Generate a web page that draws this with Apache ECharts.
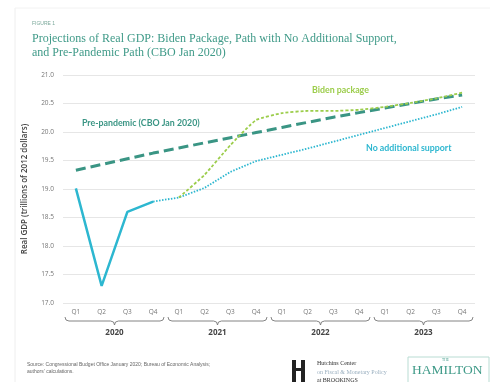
<!DOCTYPE html>
<html>
<head>
<meta charset="utf-8">
<script src="https://cdn.jsdelivr.net/npm/echarts@6/dist/echarts.min.js"></script>
<style>
html,body{margin:0;padding:0;background:#fff;}
#chart{width:490px;height:382px;}
</style>
</head>
<body>
<div id="chart"></div>
<script>
const quarters = ['Q1','Q2','Q3','Q4','Q1','Q2','Q3','Q4','Q1','Q2','Q3','Q4','Q1','Q2','Q3','Q4'];
const years = ['2020','2021','2022','2023'];
const yTicks = [17.0,17.5,18.0,18.5,19.0,19.5,20.0,20.5,21.0];
const actual = [19.01,17.30,18.60,18.78,null,null,null,null,null,null,null,null,null,null,null,null];
const noSupport = [null,null,null,18.78,18.85,19.02,19.30,19.49,19.60,19.71,19.83,19.95,20.07,20.19,20.31,20.44];
const biden = [null,null,null,null,18.85,19.25,19.77,20.21,20.33,20.37,20.37,20.39,20.44,20.51,20.59,20.69];
const prePandemic = [19.33,19.43,19.53,19.63,19.72,19.81,19.90,19.99,20.08,20.17,20.26,20.34,20.42,20.50,20.58,20.65];

const TEAL = '#3a9584';
const CYAN = '#2db7d0';
const LIME = '#9ccd4b';

const chart = echarts.init(document.getElementById('chart'), null, {renderer:'canvas'});
const option = {
  animation:false,
  backgroundColor:'#fff',
  title:[
    {text:'FIGURE 1', left:27, top:16, textStyle:{fontSize:5, fontWeight:'normal', color:'#7aa89a', fontFamily:'Liberation Sans'}},
    {text:'Projections of Real GDP: Biden Package, Path with No Additional Support,\nand Pre-Pandemic Path (CBO Jan 2020)', left:27, top:27,
     textStyle:{fontSize:12, fontWeight:'normal', color:'#3f9a88', fontFamily:'Liberation Serif', lineHeight:14}}
  ],
  grid:{left:63, right:15, top:75, bottom:79},
  xAxis:[
    {type:'category', data:quarters, boundaryGap:true,
     axisLine:{show:false}, axisTick:{show:false},
     axisLabel:{fontSize:6.5, color:'#777', margin:6, fontFamily:'Open Sans', interval:0}},
    {type:'category', data:years, position:'bottom', offset:26, boundaryGap:true,
     axisLine:{show:false}, axisTick:{show:false},
     axisLabel:{fontSize:8, fontWeight:'bold', color:'#444', margin:0, fontFamily:'Open Sans', interval:0}}
  ],
  yAxis:{type:'value', min:yTicks[0], max:yTicks[yTicks.length-1], interval:0.5,
    axisLine:{show:false}, axisTick:{show:false},
    axisLabel:{fontSize:6.5, color:'#777', margin:9, fontFamily:'Open Sans', formatter:v=>v.toFixed(1)},
    splitLine:{lineStyle:{color:'#e6e6e6', width:1}},
    name:'Real GDP (trillions of 2012 dollars)', nameLocation:'middle', nameGap:34, nameRotate:90,
    nameTextStyle:{fontSize:8, fontWeight:600, color:'#444', fontFamily:'Open Sans'}
  },
  series:[
    {name:'Pre-pandemic', type:'line', data:prePandemic, symbol:'none', z:3,
     lineStyle:{color:TEAL, width:3, type:[10,5]}},
    {name:'No additional support', type:'line', data:noSupport, symbol:'none', z:2,
     lineStyle:{color:CYAN, width:1.8, type:[1.5,1.5]}},
    {name:'Biden package', type:'line', data:biden, symbol:'none', z:4, smooth:0.15,
     lineStyle:{color:LIME, width:1.8, type:[3,2]}},
    {name:'Actual', type:'line', data:actual, symbol:'none', z:5,
     lineStyle:{color:CYAN, width:2.5}}
  ]
};
chart.setOption(option);

const g = [];
function txt(x, y, text, style) {
  g.push({type:'text', x:x, y:y, style:Object.assign({text:text}, style)});
}
txt(82, 119, 'Pre-pandemic (CBO Jan 2020)', {fontSize:8.8, fontWeight:'bold', fill:TEAL, fontFamily:'Lato'});
txt(312, 86, 'Biden package', {fontSize:8.8, fontWeight:'bold', fill:LIME, fontFamily:'Lato'});
txt(366, 144, 'No additional support', {fontSize:8.8, fontWeight:'bold', fill:CYAN, fontFamily:'Lato'});

const band = chart.convertToPixel({xAxisIndex:0}, 1) - chart.convertToPixel({xAxisIndex:0}, 0);
const y0 = 317, y1 = 321, y2 = 325, r = 4;
const braceStyle = {stroke:'#777', lineWidth:0.9, fill:null};
function curve(ax, ay, cx, cy, bx, by) {
  g.push({type:'bezierCurve', shape:{x1:ax, y1:ay, cpx1:cx, cpy1:cy, x2:bx, y2:by}, style:braceStyle});
}
function seg(ax, ay, bx, by) {
  g.push({type:'line', shape:{x1:ax, y1:ay, x2:bx, y2:by}, style:braceStyle});
}
for (let i = 0; i < years.length; i++) {
  const x1 = chart.convertToPixel({xAxisIndex:0}, i*4) - band/2 + 2;
  const x2 = chart.convertToPixel({xAxisIndex:0}, i*4+3) + band/2 - 2;
  const m = (x1 + x2) / 2;
  curve(x1, y0, x1, y1, x1+r, y1);
  seg(x1+r, y1, m-r, y1);
  curve(m-r, y1, m, y1, m, y2);
  curve(m, y2, m, y1, m+r, y1);
  seg(m+r, y1, x2-r, y1);
  curve(x2-r, y1, x2, y1, x2, y0);
}

// faint frame
seg(15, 8, 15, 382); g[g.length-1].style = {stroke:'#eeeeee', lineWidth:1};
seg(15, 8, 490, 8); g[g.length-1].style = {stroke:'#f2f2f2', lineWidth:1};

// footer
txt(27, 361, 'Source: Congressional Budget Office January 2020; Bureau of Economic Analysis;\nauthors\u2019 calculations.', {fontSize:5, lineHeight:7, fill:'#666', fontFamily:'Liberation Sans'});
g.push({type:'rect', shape:{x:292, y:360, width:4, height:22}, style:{fill:'#222'}});
g.push({type:'rect', shape:{x:301, y:360, width:4, height:22}, style:{fill:'#222'}});
g.push({type:'rect', shape:{x:292, y:368, width:13, height:3}, style:{fill:'#222'}});
txt(317, 360, 'Hutchins Center', {fontSize:6, fill:'#333', fontFamily:'Liberation Serif'});
txt(317, 369, 'on Fiscal & Monetary Policy', {fontSize:6, fill:'#9bb0c0', fontFamily:'Liberation Serif'});
txt(317, 377, 'at BROOKINGS', {fontSize:6, fill:'#333', fontFamily:'Liberation Serif'});
g.push({type:'rect', shape:{x:408, y:357, width:81, height:26}, style:{fill:null, stroke:'#b9dcd3', lineWidth:1}});
txt(442, 358, 'THE', {fontSize:3.5, fill:'#3f9a88', fontFamily:'Liberation Serif'});
txt(412, 363, 'HAMILTON', {fontSize:13.5, fill:'#3f9a88', fontFamily:'Liberation Serif'});
chart.setOption({graphic:g});
</script>
</body>
</html>
